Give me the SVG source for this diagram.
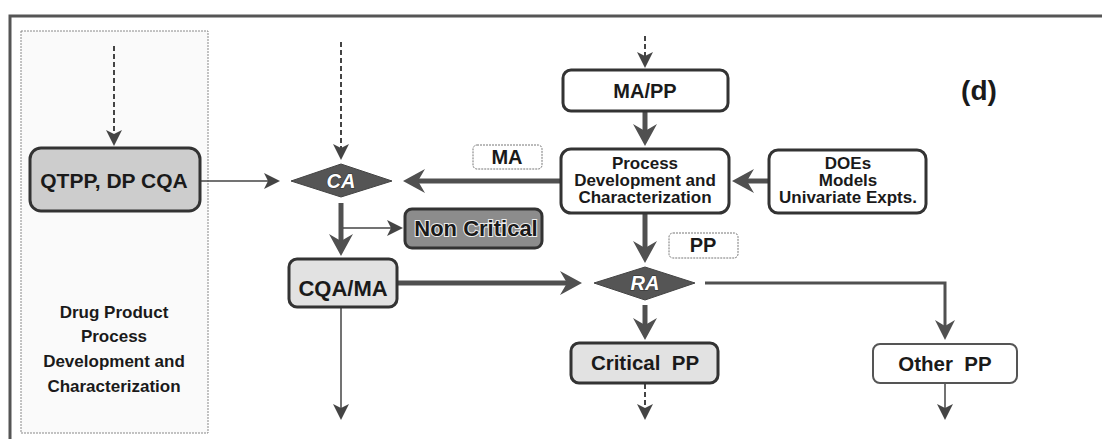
<svg xmlns="http://www.w3.org/2000/svg" width="1102" height="440" viewBox="0 0 1102 440">
  <style>
    text { font-family: "Liberation Sans", Arial, sans-serif; font-weight: bold; text-anchor: middle; fill: #1a1a1a; }
    .box { stroke: #333; stroke-width: 3; }
    .tag { fill: #fff; stroke: #777; stroke-width: 1; stroke-dasharray: 2 1; }
    .thick { fill: none; stroke: #505050; stroke-width: 5; }
    .mid { fill: none; stroke: #505050; stroke-width: 3; }
    .thin { fill: none; stroke: #444; stroke-width: 1.5; }
    .dash { fill: none; stroke: #444; stroke-width: 2; stroke-dasharray: 5 3; }
    .dia { fill: #555; stroke: #444; stroke-width: 1; }
    .dtxt { fill: #fff; stroke: #333; stroke-width: 1.2; paint-order: stroke; font-style: italic; font-size: 20px; }
  </style>
  <defs>
    <marker id="headThick" viewBox="0 0 22 24" refX="7" refY="12" markerWidth="22" markerHeight="24" markerUnits="userSpaceOnUse" orient="auto">
      <path d="M0,0 L22,12 L0,24 L7,12 z" fill="#505050"/>
    </marker>
    <marker id="headMid" viewBox="0 0 20 20" refX="6" refY="10" markerWidth="20" markerHeight="20" markerUnits="userSpaceOnUse" orient="auto">
      <path d="M0,0 L20,10 L0,20 L6,10 z" fill="#505050"/>
    </marker>
    <marker id="headThin" viewBox="0 0 16 16" refX="4" refY="8" markerWidth="16" markerHeight="16" markerUnits="userSpaceOnUse" orient="auto">
      <path d="M0,0 L16,8 L0,16 L4,8 z" fill="#444"/>
    </marker>
  </defs>

  <!-- outer frame (top and left edges) -->
  <path d="M10,439 V16 H1102" fill="none" stroke="#555" stroke-width="3"/>

  <!-- left side panel -->
  <g id="panel">
    <rect x="21" y="31" width="187" height="402" fill="#fafafa" stroke="#888" stroke-width="1" stroke-dasharray="2 1"/>
    <text font-size="17" x="114" y="318">Drug Product</text>
    <text font-size="17" x="114" y="342">Process</text>
    <text font-size="17" x="114" y="367">Development and</text>
    <text font-size="17" x="114" y="392">Characterization</text>
  </g>

  <!-- connectors -->
  <g id="connectors">
    <path class="dash" d="M114,46 V134" marker-end="url(#headThin)"/>
    <path class="dash" d="M341,42 V148" marker-end="url(#headThin)"/>
    <path class="dash" d="M645,36 V56" marker-end="url(#headThin)"/>
    <path class="dash" d="M645,384 V408" marker-end="url(#headThin)"/>
    <path class="thin" d="M200,181 H268" marker-end="url(#headThin)"/>
    <path class="thick" d="M561,181 H418" marker-end="url(#headThick)"/>
    <path class="thick" d="M769,181 H747" marker-end="url(#headThick)"/>
    <path class="thick" d="M645,111 V131" marker-end="url(#headThick)"/>
    <path class="thick" d="M645,213 V248" marker-end="url(#headThick)"/>
    <path class="thick" d="M341,203 V241" marker-end="url(#headThick)"/>
    <path class="thin" d="M343,228 H391" marker-end="url(#headThin)"/>
    <path class="thin" d="M341,307 V408" marker-end="url(#headThin)"/>
    <path class="thick" d="M397,283 H567" marker-end="url(#headThick)"/>
    <path class="mid" d="M705,283 H945 V326" marker-end="url(#headMid)"/>
    <path class="thick" d="M645,305 V325" marker-end="url(#headThick)"/>
    <path class="thin" d="M945,383 V408" marker-end="url(#headThin)"/>
  </g>

  <g id="qtpp">
    <rect class="box" x="30" y="148" width="170" height="63" rx="11" fill="#cdcdcd"/>
    <text font-size="21" x="114" y="188">QTPP, DP CQA</text>
  </g>

  <g id="ca">
    <polygon class="dia" points="291,181 341,164 392,181 341,197"/>
    <text class="dtxt" x="341" y="188">CA</text>
  </g>

  <g id="noncritical">
    <rect class="box" x="405" y="209" width="137" height="39" rx="7" fill="#8c8c8c"/>
    <text font-size="22" x="476" y="236" stroke="#eee" stroke-width="2" paint-order="stroke">Non Critical</text>
  </g>

  <g id="cqama">
    <rect class="box" x="289" y="259" width="108" height="48" rx="8" fill="#e2e2e2"/>
    <text font-size="22" x="343" y="296">CQA/MA</text>
  </g>

  <g id="mapp">
    <rect class="box" x="563" y="70" width="165" height="41" rx="8" fill="#fff"/>
    <text font-size="20" x="645" y="98">MA/PP</text>
  </g>

  <g id="procdev">
    <rect class="box" x="561" y="149" width="168" height="64" rx="10" fill="#fff"/>
    <text font-size="17" x="645" y="169">Process</text>
    <text font-size="17" x="645" y="186">Development and</text>
    <text font-size="17" x="645" y="203">Characterization</text>
  </g>

  <g id="ma-tag">
    <rect class="tag" x="473" y="145" width="69" height="24" rx="4"/>
    <text font-size="20" x="507" y="164">MA</text>
  </g>

  <g id="does">
    <rect class="box" x="769" y="150" width="157" height="63" rx="9" fill="#fff"/>
    <text font-size="17" x="848" y="169">DOEs</text>
    <text font-size="17" x="848" y="186">Models</text>
    <text font-size="17" x="848" y="203">Univariate Expts.</text>
  </g>

  <g id="pp-tag">
    <rect class="tag" x="669" y="233" width="69" height="25" rx="4"/>
    <text font-size="20" x="703" y="252">PP</text>
  </g>

  <g id="ra">
    <polygon class="dia" points="594,283 645,267 695,283 645,300"/>
    <text class="dtxt" x="645" y="290">RA</text>
  </g>

  <g id="criticalpp">
    <rect class="box" x="571" y="343" width="147" height="40" rx="8" fill="#e2e2e2"/>
    <text font-size="20.5" x="645" y="370" xml:space="preserve">Critical  PP</text>
  </g>

  <g id="otherpp">
    <rect x="873" y="344" width="144" height="39" rx="7" fill="#fff" stroke="#555" stroke-width="2"/>
    <text font-size="20.5" x="945" y="371" xml:space="preserve">Other  PP</text>
  </g>

  <g id="label-d">
    <text font-size="28" x="979" y="100" fill="#444">(d)</text>
  </g>
</svg>
